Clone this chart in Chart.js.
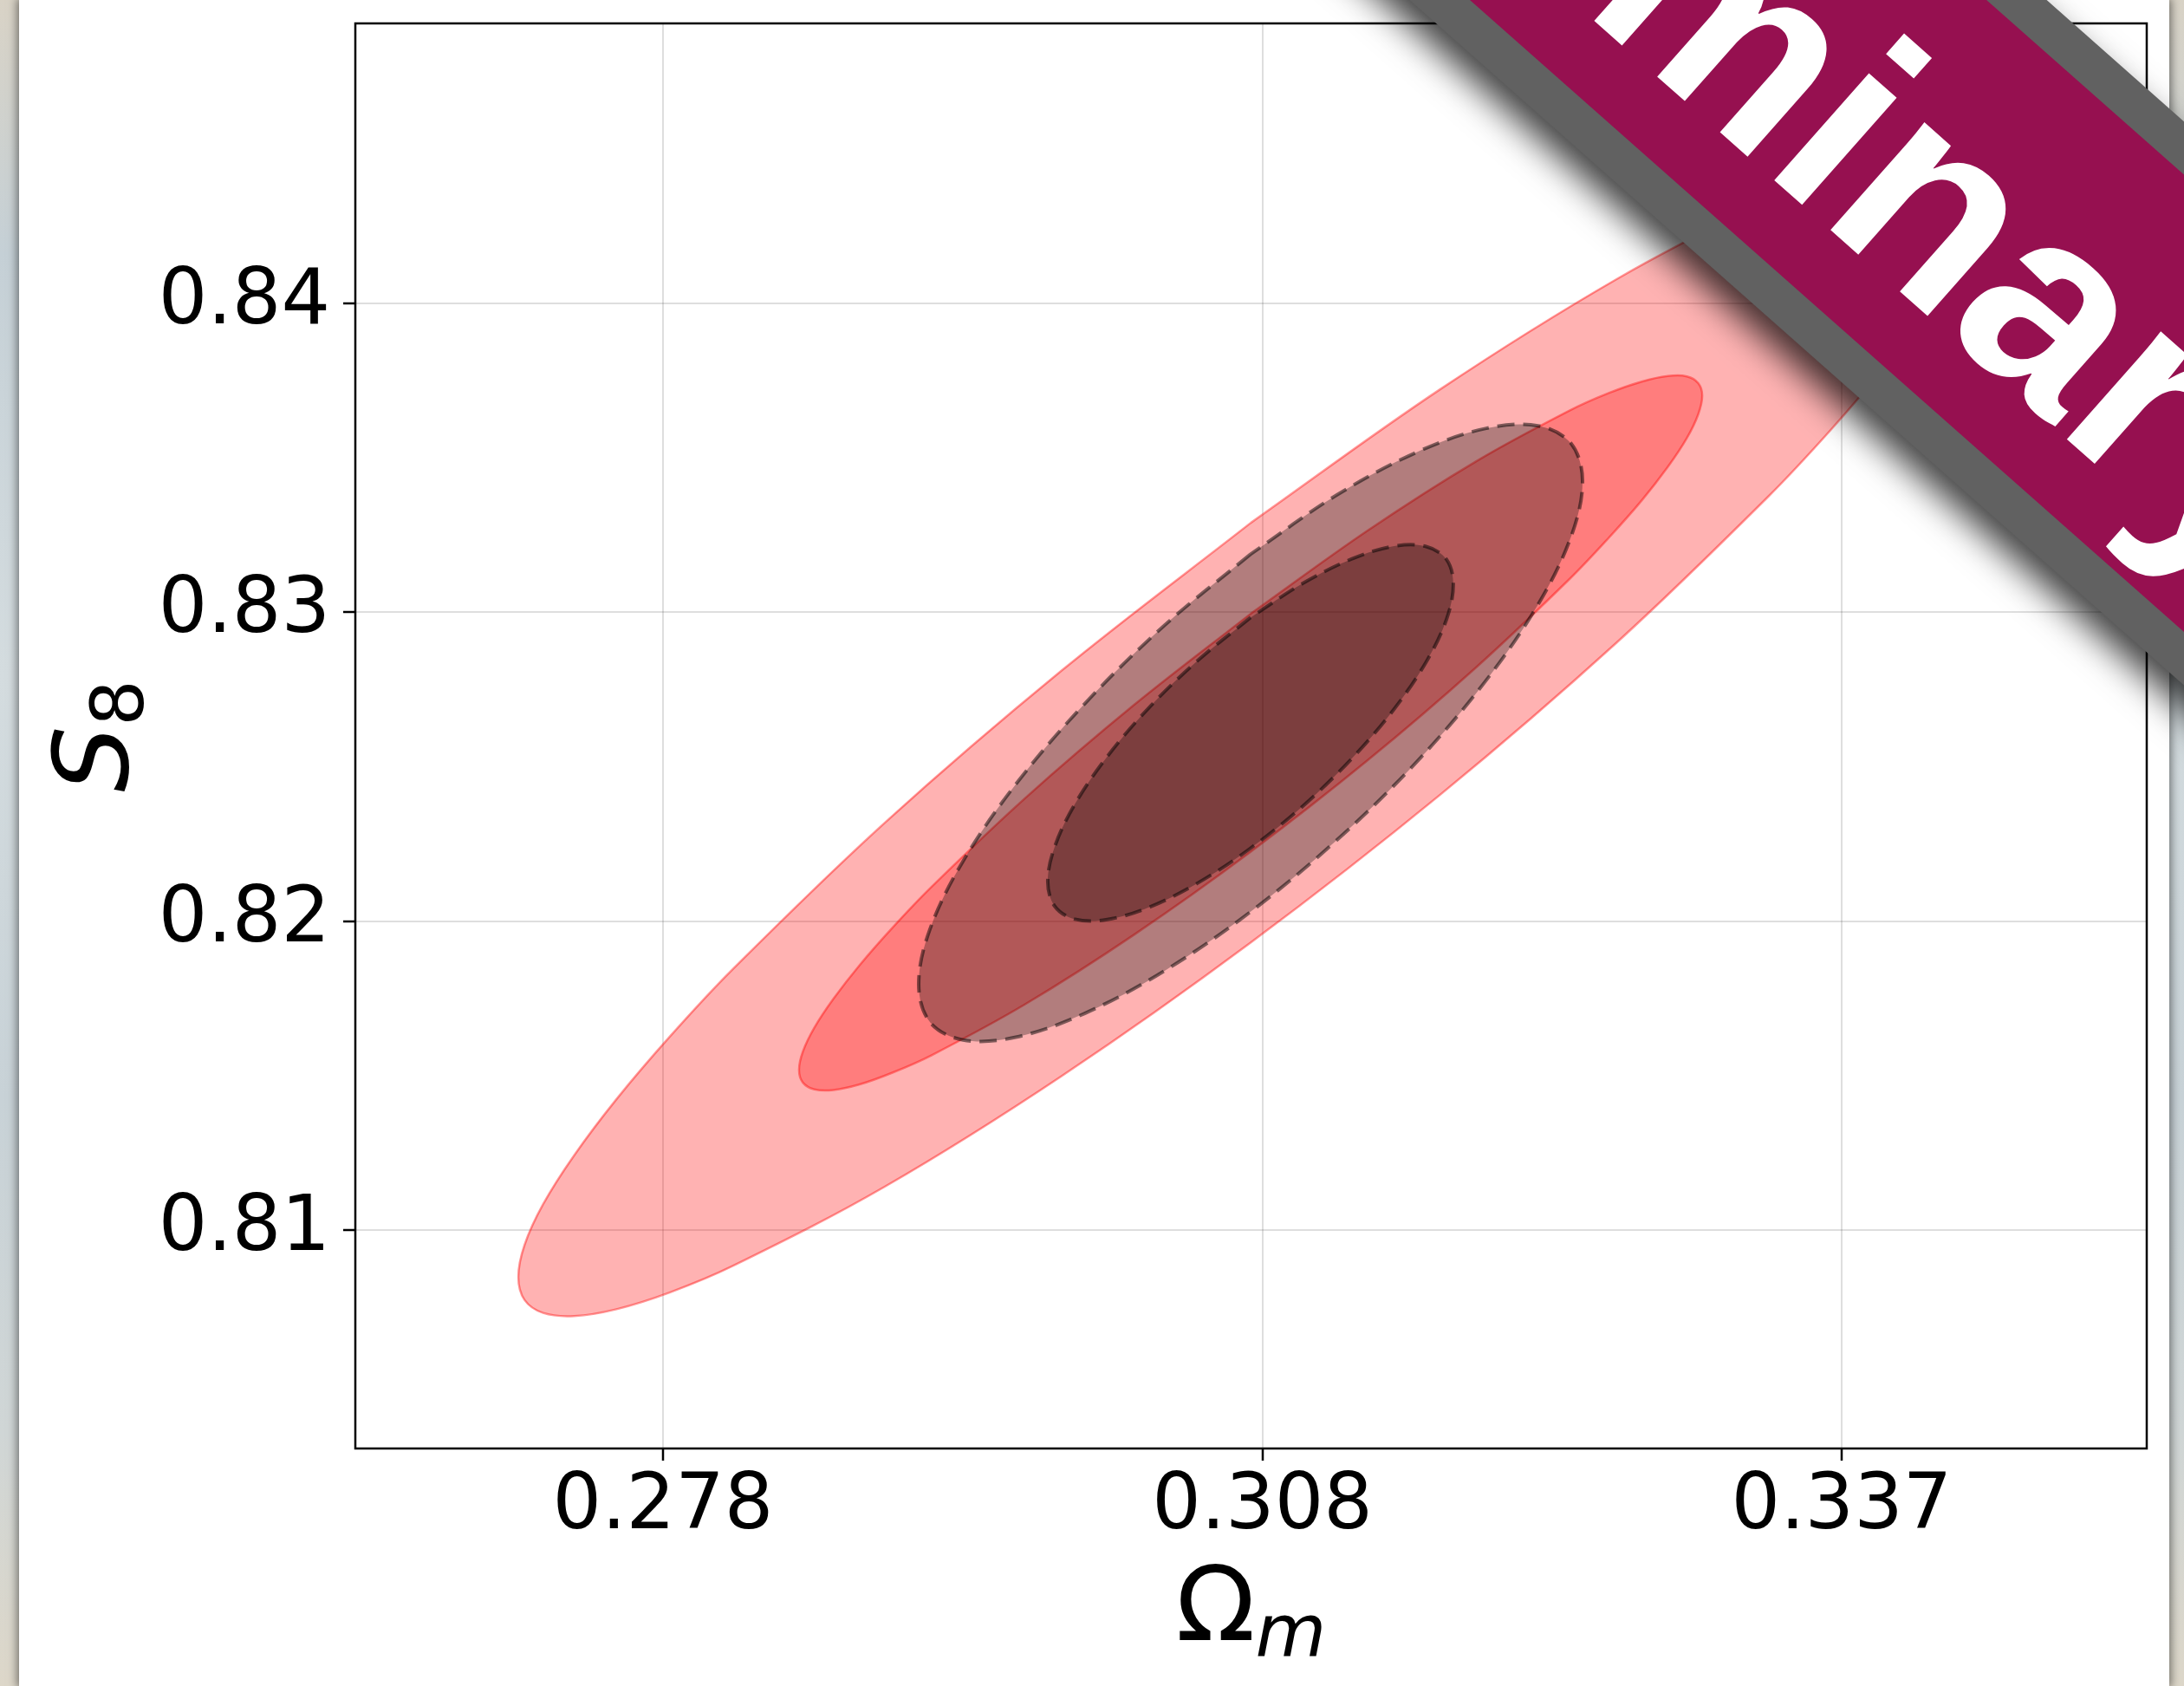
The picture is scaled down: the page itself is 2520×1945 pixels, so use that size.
<!DOCTYPE html>
<html>
<head>
<meta charset="utf-8">
<script src="https://cdn.jsdelivr.net/npm/chart.js@4.4.1/dist/chart.umd.min.js"></script>
<style>
  html, body { margin: 0; padding: 0; width: 2520px; height: 1945px; overflow: hidden; }
  body {
    position: relative;
    background: linear-gradient(180deg, #d9d3c6 0%, #c5d0d6 15%, #d4dcdf 40%, #c8d2d7 65%, #d0d6d6 85%, #ddd7c9 100%);
  }
  #card {
    position: absolute; left: 22px; top: 0; width: 2481px; height: 1945px;
    background: #fff; box-shadow: 0 0 10px 2px rgba(0, 0, 0, 0.5);
  }
  #chart { position: absolute; left: 0; top: 0; }
</style>
</head>
<body>
<div id="card"></div>
<canvas id="chart" width="2520" height="1945"></canvas>
<script>
document.addEventListener("DOMContentLoaded", () => {

    var xTicks = [0.278, 0.308, 0.337];
    var yTicks = [0.81, 0.82, 0.83, 0.84];
    var xRange = [0.2626, 0.35227];
    var yRange = [0.80292, 0.84907];

    // contour outlines (Omega_m, S_8), going round each one
    var red95X = [0.30741, 0.29793, 0.28908, 0.28149, 0.27833, 0.27567, 0.27355, 0.27200, 0.27107, 0.27076, 0.27107, 0.27200,
                  0.27355, 0.27567, 0.27833, 0.28149, 0.28908, 0.29793, 0.30741, 0.31690, 0.32574, 0.33333, 0.33650, 0.33916,
                  0.34128, 0.34282, 0.34376, 0.34407, 0.34376, 0.34282, 0.34128, 0.33916, 0.33650, 0.33333, 0.32574, 0.31690];
    var red95Y = [0.83289, 0.82810, 0.82317, 0.81844, 0.81625, 0.81423, 0.81241, 0.81083, 0.80951, 0.80847, 0.80773, 0.80731,
                  0.80721, 0.80743, 0.80797, 0.80883, 0.81139, 0.81497, 0.81930, 0.82409, 0.82902, 0.83375, 0.83594, 0.83796,
                  0.83977, 0.84136, 0.84268, 0.84372, 0.84445, 0.84488, 0.84498, 0.84475, 0.84421, 0.84336, 0.84079, 0.83722];

    var red68X = [0.30741, 0.30156, 0.29611, 0.29143, 0.28948, 0.28784, 0.28653, 0.28558, 0.28500, 0.28481, 0.28500, 0.28558,
                  0.28653, 0.28784, 0.28948, 0.29143, 0.29611, 0.30156, 0.30741, 0.31326, 0.31871, 0.32340, 0.32534, 0.32699,
                  0.32830, 0.32925, 0.32982, 0.33002, 0.32982, 0.32925, 0.32830, 0.32699, 0.32534, 0.32340, 0.31871, 0.31326];
    var red68Y = [0.82995, 0.82699, 0.82397, 0.82110, 0.81978, 0.81857, 0.81748, 0.81655, 0.81577, 0.81518, 0.81477, 0.81455,
                  0.81453, 0.81471, 0.81509, 0.81565, 0.81730, 0.81955, 0.82224, 0.82520, 0.82822, 0.83109, 0.83241, 0.83362,
                  0.83471, 0.83564, 0.83641, 0.83701, 0.83742, 0.83764, 0.83765, 0.83747, 0.83710, 0.83654, 0.83489, 0.83264];

    var dark95X = [0.30741, 0.30311, 0.29911, 0.29566, 0.29302, 0.29136, 0.29080, 0.29136, 0.29302, 0.29566, 0.29911, 0.30311,
                   0.30741, 0.31171, 0.31572, 0.31916, 0.32180, 0.32346, 0.32403, 0.32346, 0.32180, 0.31916, 0.31572, 0.31171];
    var dark95Y = [0.83188, 0.82958, 0.82704, 0.82443, 0.82194, 0.81973, 0.81795, 0.81673, 0.81615, 0.81624, 0.81701, 0.81839,
                   0.82030, 0.82261, 0.82515, 0.82776, 0.83025, 0.83246, 0.83424, 0.83546, 0.83604, 0.83595, 0.83518, 0.83379];

    var dark68X = [0.30741, 0.30479, 0.30234, 0.30024, 0.29862, 0.29761, 0.29726, 0.29761, 0.29862, 0.30024, 0.30234, 0.30479,
                   0.30741, 0.31004, 0.31249, 0.31459, 0.31620, 0.31722, 0.31756, 0.31722, 0.31620, 0.31459, 0.31249, 0.31004];
    var dark68Y = [0.82983, 0.82845, 0.82692, 0.82533, 0.82379, 0.82241, 0.82128, 0.82048, 0.82006, 0.82005, 0.82045, 0.82124,
                   0.82236, 0.82373, 0.82527, 0.82686, 0.82839, 0.82977, 0.83090, 0.83171, 0.83213, 0.83214, 0.83173, 0.83094];

    function closedLoop(xs, ys) {
        var pts = xs.map(function (x, i) { return { x: x, y: ys[i] }; });
        pts.push(pts[0]);
        return pts;
    }

    function contour(xs, ys, fillColor, edgeColor, edgeWidth, dash, order) {
        return {
            data: closedLoop(xs, ys),
            showLine: true,
            fill: "shape",
            backgroundColor: fillColor,
            borderColor: edgeColor,
            borderWidth: edgeWidth,
            borderDash: dash,
            pointRadius: 0,
            tension: 0.35,
            order: order
        };
    }

    function drawLabel(ctx, main, sub, x, y, mainStyle, subStyle) {
        ctx.save();
        ctx.fillStyle = "#000";
        ctx.textAlign = "left";
        ctx.textBaseline = "alphabetic";
        var mainFont = mainStyle + ' 120px "DejaVu Sans"';
        var subFont = subStyle + ' 84px "DejaVu Sans"';
        ctx.font = mainFont;
        var w1 = ctx.measureText(main).width;
        ctx.font = subFont;
        var w2 = ctx.measureText(sub).width;
        var x0 = x - (w1 + w2) / 2;
        ctx.font = mainFont;
        ctx.fillText(main, x0, y);
        ctx.font = subFont;
        ctx.fillText(sub, x0 + w1, y + 18);
        ctx.restore();
    }

    function drawBanner(ctx) {
        ctx.save();
        ctx.translate(1696, 0);
        ctx.rotate(41.5 * Math.PI / 180);
        ctx.shadowColor = "rgba(0, 0, 0, 0.75)";
        ctx.shadowBlur = 40;
        ctx.shadowOffsetX = -14;
        ctx.shadowOffsetY = 16;
        ctx.fillStyle = "#616161";
        ctx.fillRect(-3000, -441, 6000, 487);
        ctx.shadowColor = "transparent";
        ctx.fillStyle = "#961050";
        ctx.fillRect(-3000, -395, 6000, 395);
        ctx.fillStyle = "#fff";
        ctx.font = 'bold 312px "Liberation Sans"';
        ctx.textAlign = "center";
        ctx.textBaseline = "alphabetic";
        ctx.fillText("Preliminary", 275, -77);
        ctx.restore();
    }

    var decorations = {
        id: "decorations",
        afterDatasetsDraw: function (chart) {
            var a = chart.chartArea, ctx = chart.ctx;
            ctx.save();
            ctx.strokeStyle = "#000";
            ctx.lineWidth = 2.5;
            ctx.strokeRect(a.left, a.top, a.right - a.left, a.bottom - a.top);
            ctx.restore();
        },
        afterDraw: function (chart) {
            var a = chart.chartArea, ctx = chart.ctx;
            drawLabel(ctx, "Ω", "m", (a.left + a.right) / 2, 1892, "normal", "italic");
            ctx.save();
            ctx.translate(147, (a.top + a.bottom) / 2);
            ctx.rotate(-Math.PI / 2);
            drawLabel(ctx, "S", "8", 0, 0, "italic", "normal");
            ctx.restore();
            drawBanner(ctx);
        }
    };

    var tickFont = { family: "'DejaVu Sans'", size: 89 };

    new Chart("chart", {
        type: "scatter",
        data: {
            datasets: [
                contour(red95X, red95Y, "rgba(255, 0, 0, 0.3)", "rgba(255, 0, 0, 0.4)", 2.5, [], 4),
                contour(red68X, red68Y, "rgba(255, 0, 0, 0.3)", "rgba(255, 0, 0, 0.4)", 2.5, [], 3),
                contour(dark95X, dark95Y, "rgba(0, 0, 0, 0.3)", "rgba(0, 0, 0, 0.5)", 4, [20, 10], 2),
                contour(dark68X, dark68Y, "rgba(0, 0, 0, 0.3)", "rgba(0, 0, 0, 0.5)", 4, [20, 10], 1)
            ]
        },
        options: {
            responsive: false,
            animation: false,
            devicePixelRatio: 1,
            layout: { padding: { left: 0, right: 43, top: 27, bottom: 0 } },
            plugins: { legend: { display: false }, tooltip: { enabled: false } },
            scales: {
                x: {
                    type: "linear",
                    min: xRange[0],
                    max: xRange[1],
                    afterBuildTicks: function (s) { s.ticks = xTicks.map(function (v) { return { value: v }; }); },
                    afterFit: function (s) { s.height = 274; s.paddingLeft = 0; s.paddingRight = 0; },
                    ticks: {
                        font: tickFont, color: "#000", padding: 1, maxRotation: 0, autoSkip: false,
                        callback: function (v) { return v.toFixed(3); }
                    },
                    grid: { color: "rgba(0, 0, 0, 0.13)", lineWidth: 2, tickLength: 14, tickColor: "#000", tickWidth: 2.5 },
                    border: { display: false }
                },
                y: {
                    type: "linear",
                    min: yRange[0],
                    max: yRange[1],
                    afterBuildTicks: function (s) { s.ticks = yTicks.map(function (v) { return { value: v }; }); },
                    afterFit: function (s) { s.width = 410; s.paddingTop = 0; s.paddingBottom = 0; },
                    ticks: {
                        font: tickFont, color: "#000", padding: 15, autoSkip: false,
                        callback: function (v) { return v.toFixed(2); }
                    },
                    grid: { color: "rgba(0, 0, 0, 0.13)", lineWidth: 2, tickLength: 14, tickColor: "#000", tickWidth: 2.5 },
                    border: { display: false }
                }
            }
        },
        plugins: [decorations]
    });

});
</script>
</body>
</html>
